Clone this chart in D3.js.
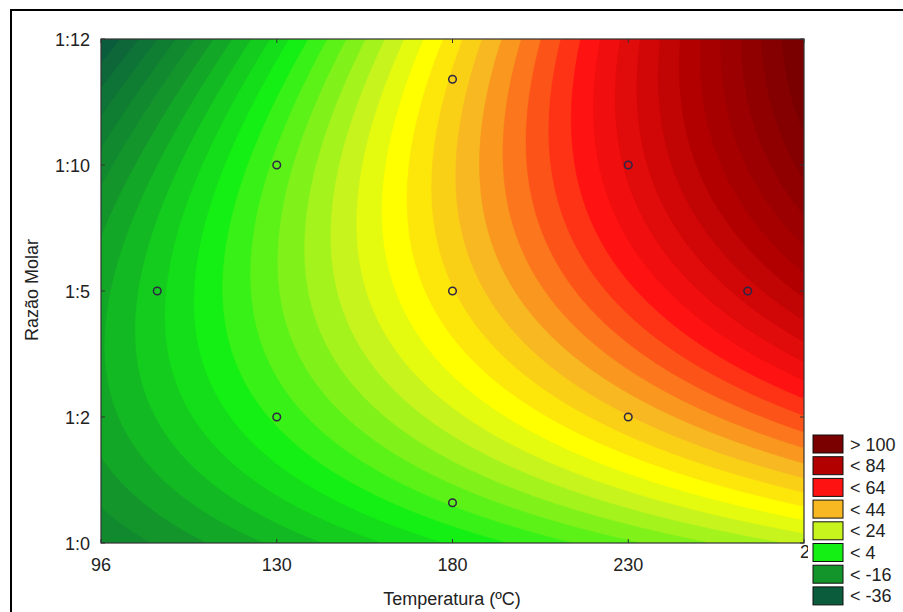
<!DOCTYPE html>
<html>
<head>
<meta charset="utf-8">
<script src="https://cdn.jsdelivr.net/npm/d3@7"></script>
<style>
	body { margin: 0; background: #fff; }
	svg text { font-family: "Liberation Sans", Arial, sans-serif; fill: #222; }
</style>
</head>
<body>
<div id="mainVis"></div>
<script>
// coded design levels and what the axes print there
var codedTicks = [-2, -1, 0, 1, 2];
var tempLabels = ["96", "130", "180", "230", "264"];
var ratioLabels = ["1:0", "1:2", "1:5", "1:10", "1:12"];

// response at the tick crossings (rows: top 1:12 -> bottom 1:0)
var gridValues = [
	[-44,  -1, 35, 70, 105],
	[-22,   9, 39, 69,  96],
	[ -9,  11, 36, 60,  80],
	[-12,   3, 20, 39,  55],
	[-28,  -6, -1, 10,  24]
];

// experimental points (coded)
var designX = [-1, -1, 1, 1, -1.68, 1.68, 0, 0, 0];
var designY = [-1, 1, -1, 1, 0, 0, -1.68, 1.68, 0];

// legend
var legendLabels = ["> 100", "< 84", "< 64", "< 44", "< 24", "< 4", "< -16", "< -36"];
var legendLevels = [104, 84, 64, 44, 24, 4, -16, -36];
var levelStep = 4, levelMin = -36, levelMax = 100;

// colour anchors (band upper limit -> colour)
var anchorVals = [-36, -16, 4, 24, 32, 44, 64, 84, 104];
var anchorCols = ["#0b5c3c", "#13952c", "#14f014", "#c8f41e", "#ffff00", "#f8b822", "#ff1212", "#b20000", "#7a0000"];

var width = 903, height = 612;
var margin = {left: 101, top: 39, right: 804, bottom: 543};

var svg = d3.select('#mainVis').append('svg')
	.attr('width', width).attr('height', height);

// outer frame (runs off the picture right and bottom)
svg.append('rect')
	.attr('x', 11).attr('y', 10).attr('width', 1000).attr('height', 1000)
	.attr('fill', 'none').attr('stroke', '#000').attr('stroke-width', 2);

var x = d3.scaleLinear().domain([-2, 2]).range([margin.left, margin.right]);
var y = d3.scaleLinear().domain([-2, 2]).range([margin.bottom, margin.top]);
var color = d3.scaleLinear().domain(anchorVals).range(anchorCols).clamp(true);

// least squares quadratic surface through the read grid
function fitSurface() {
	var rows = [], zs = [];
	gridValues.forEach(function(row, r) {
		row.forEach(function(z, c) {
			var xc = codedTicks[c], yc = codedTicks[codedTicks.length - 1 - r];
			rows.push([1, xc, yc, xc * xc, yc * yc, xc * yc]);
			zs.push(z);
		});
	});
	var n = 6, A = [], i, j, k;
	for (i = 0; i < n; i++) {
		A.push([]);
		for (j = 0; j <= n; j++) A[i].push(0);
	}
	rows.forEach(function(f, r) {
		for (i = 0; i < n; i++) {
			for (j = 0; j < n; j++) A[i][j] += f[i] * f[j];
			A[i][n] += f[i] * zs[r];
		}
	});
	for (i = 0; i < n; i++) {
		for (k = i + 1; k < n; k++) {
			var m = A[k][i] / A[i][i];
			for (j = i; j <= n; j++) A[k][j] -= m * A[i][j];
		}
	}
	var b = new Array(n);
	for (i = n - 1; i >= 0; i--) {
		var s = A[i][n];
		for (j = i + 1; j < n; j++) s -= A[i][j] * b[j];
		b[i] = s / A[i][i];
	}
	return function(xc, yc) {
		return b[0] + b[1] * xc + b[2] * yc + b[3] * xc * xc + b[4] * yc * yc + b[5] * xc * yc;
	};
}
var surface = fitSurface();

var gw = 240, gh = 172;
var values = new Array(gw * gh);
for (var j = 0; j < gh; j++) {
	for (var i = 0; i < gw; i++) {
		var xc = -2 + (i + 0.5) / gw * 4;
		var yc = 2 - (j + 0.5) / gh * 4;
		values[j * gw + i] = surface(xc, yc);
	}
}

var thresholds = d3.range(levelMin, levelMax + 1, levelStep);
var contours = d3.contours().size([gw, gh]).thresholds(thresholds)(values);

var proj = d3.geoTransform({
	point: function(px, py) {
		this.stream.point(margin.left + px / gw * (margin.right - margin.left),
			margin.top + py / gh * (margin.bottom - margin.top));
	}
});
var path = d3.geoPath(proj);

svg.append('clipPath').attr('id', 'plotClip')
	.append('rect')
	.attr('x', margin.left).attr('y', margin.top)
	.attr('width', margin.right - margin.left).attr('height', margin.bottom - margin.top);

var plot = svg.append('g').attr('clip-path', 'url(#plotClip)');
plot.append('rect')
	.attr('x', margin.left).attr('y', margin.top)
	.attr('width', margin.right - margin.left).attr('height', margin.bottom - margin.top)
	.attr('fill', color(levelMin));

plot.selectAll('path.band')
	.data(contours)
	.enter().append('path')
	.attr('class', 'band')
	.attr('d', path)
	.attr('fill', function(d) { return color(d.value + levelStep); })
	.attr('stroke', function(d) { return color(d.value + levelStep); })
	.attr('stroke-width', 0.5);

// design points
plot.selectAll('circle.pt')
	.data(designX)
	.enter().append('circle')
	.attr('class', 'pt')
	.attr('cx', function(d) { return x(d); })
	.attr('cy', function(d, i) { return y(designY[i]); })
	.attr('r', 3.8)
	.attr('fill', 'none')
	.attr('stroke', '#2e2645')
	.attr('stroke-width', 1.5);

// frame of the plot
svg.append('rect')
	.attr('x', margin.left).attr('y', margin.top)
	.attr('width', margin.right - margin.left).attr('height', margin.bottom - margin.top)
	.attr('fill', 'none').attr('stroke', '#333').attr('stroke-width', 1.2);

// ticks inside on all sides
var tk = svg.append('g').attr('stroke', '#333').attr('stroke-width', 1);
codedTicks.forEach(function(t) {
	tk.append('line').attr('x1', x(t)).attr('x2', x(t)).attr('y1', margin.bottom).attr('y2', margin.bottom - 4);
	tk.append('line').attr('x1', x(t)).attr('x2', x(t)).attr('y1', margin.top).attr('y2', margin.top + 4);
	tk.append('line').attr('x1', margin.left).attr('x2', margin.left + 4).attr('y1', y(t)).attr('y2', y(t));
	tk.append('line').attr('x1', margin.right).attr('x2', margin.right - 4).attr('y1', y(t)).attr('y2', y(t));
});

// tick labels
svg.selectAll('text.xt')
	.data(codedTicks)
	.enter().append('text')
	.attr('class', 'xt')
	.attr('x', function(d, i) { return i === codedTicks.length - 1 ? x(d) - 4 : x(d); })
	.attr('y', function(d, i) { return i === codedTicks.length - 1 ? 558 : 571; })
	.attr('text-anchor', function(d, i) { return i === codedTicks.length - 1 ? 'start' : 'middle'; })
	.style('font-size', '18px')
	.text(function(d, i) { return tempLabels[i]; });

svg.selectAll('text.yt')
	.data(codedTicks)
	.enter().append('text')
	.attr('class', 'yt')
	.attr('x', 90)
	.attr('y', function(d) { return y(d) + 6.5; })
	.attr('text-anchor', 'end')
	.style('font-size', '18px')
	.text(function(d, i) { return ratioLabels[i]; });

svg.append('text')
	.attr('x', 452).attr('y', 605)
	.attr('text-anchor', 'middle')
	.style('font-size', '18px')
	.text('Temperatura (ºC)');

svg.append('text')
	.attr('transform', 'translate(38,290) rotate(-90)')
	.attr('text-anchor', 'middle')
	.style('font-size', '18px')
	.text('Razão Molar');

// legend
var lg = svg.append('g');
lg.append('rect')
	.attr('x', 808).attr('y', 428).attr('width', 95).attr('height', 184)
	.attr('fill', '#fff');
var item = lg.selectAll('g.item')
	.data(legendLabels)
	.enter().append('g')
	.attr('class', 'item')
	.attr('transform', function(d, i) { return 'translate(813,' + (435 + i * 21.7) + ')'; });
item.append('rect')
	.attr('width', 30).attr('height', 18)
	.attr('fill', function(d, i) { return color(legendLevels[i]); })
	.attr('stroke', '#111').attr('stroke-width', 1);
item.append('text')
	.attr('x', 37).attr('y', 15.5)
	.style('font-size', '18px')
	.text(function(d) { return d; });
</script>
</body>
</html>
